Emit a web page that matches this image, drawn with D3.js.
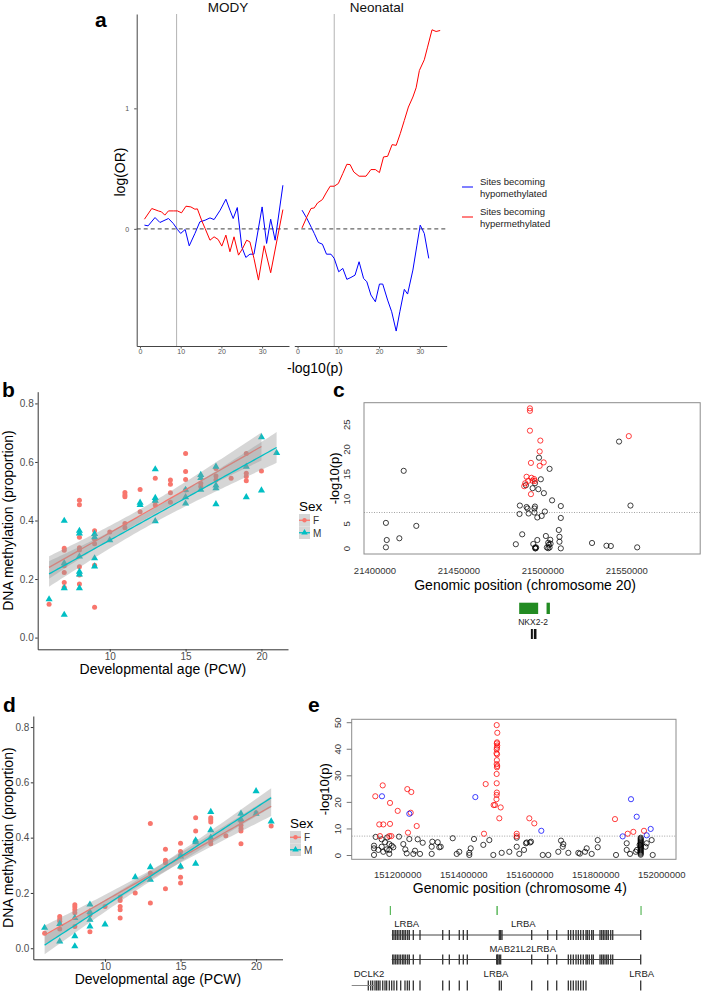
<!DOCTYPE html>
<html><head><meta charset="utf-8">
<script src="https://cdn.jsdelivr.net/npm/d3@7/dist/d3.min.js"></script>
<style>
html,body{margin:0;padding:0;background:#fff;}
svg{display:block;}
</style></head>
<body><svg id="fig" width="701" height="991" viewBox="0 0 701 991"></svg>
<script>
// ================= DATA =================
// Panel a : log(OR) against -log10(p) threshold
const aFacetNames = ["MODY", "Neonatal"];
const aXTicks = [0, 10, 20, 30];
const aYTicks = [0, 1];
const aThreshold = 9;
const modyHypo = [[1.1,0.031],[2.0,0.025],[3.7,0.094],[4.9,0.053],[7.0,0.086],[8.2,0.044],[9.2,-0.005],[10.0,-0.038],[11.1,-0.005],[12.1,-0.141],[13.5,-0.038],[14.7,0.058],[16.0,0.072],[17.2,0.091],[18.2,0.077],[19.7,0.155],[21.1,0.246],[22.1,0.155],[22.9,0.086],[23.9,0.177],[25.0,-0.149],[26.0,-0.237],[27.0,-0.21],[28.0,-0.21],[30.0,0.182],[31.1,-0.121],[32.1,0.08],[33.2,-0.094],[35.1,0.362]];
const modyHyper = [[1.1,0.08],[2.9,0.169],[4.5,0.149],[5.3,0.141],[6.1,0.114],[7.0,0.149],[8.2,0.149],[9.2,0.149],[10.2,0.133],[11.3,0.188],[12.5,0.182],[13.5,0.163],[14.1,0.166],[15.2,0.066],[16.0,0.003],[17.2,-0.094],[18.2,-0.066],[19.2,-0.088],[20.1,-0.143],[21.1,-0.052],[22.1,-0.19],[23.1,-0.066],[24.2,-0.218],[25.2,-0.163],[26.2,-0.094],[27.0,-0.108],[28.0,-0.245],[29.1,-0.425],[30.5,-0.14],[32.1,-0.364],[35.1,0.16]];
const neoHypo = [[1.1,0.155],[2.3,0.086],[3.4,0.011],[4.1,-0.038],[5.1,-0.113],[6.1,-0.127],[7.1,-0.21],[8.2,-0.21],[9.0,-0.245],[10.1,-0.356],[11.1,-0.328],[12.1,-0.419],[13.1,-0.403],[14.1,-0.384],[15.1,-0.273],[16.2,-0.411],[17.0,-0.439],[18.0,-0.549],[19.1,-0.605],[20.1,-0.458],[20.9,-0.458],[22.1,-0.591],[23.1,-0.688],[24.2,-0.848],[25.1,-0.688],[26.2,-0.502],[27.0,-0.541],[28.3,-0.342],[29.3,-0.135],[30.1,0.031],[31.1,-0.038],[32.2,-0.245]];
const neoHyper = [[1.1,0.008],[2.3,0.1],[3.3,0.169],[4.1,0.174],[4.9,0.215],[6.1,0.243],[7.0,0.298],[8.0,0.354],[9.0,0.354],[10.0,0.376],[11.1,0.459],[12.1,0.536],[12.9,0.533],[13.8,0.472],[15.1,0.437],[16.8,0.437],[18.0,0.492],[19.1,0.492],[20.1,0.467],[21.1,0.597],[22.1,0.602],[23.2,0.699],[24.2,0.693],[25.2,0.79],[26.2,0.9],[27.2,1.011],[28.3,1.094],[29.1,1.171],[29.9,1.315],[31.1,1.403],[31.9,1.508],[33.0,1.652],[34.0,1.638],[35.0,1.646]];
const aLegendLabels = [["Sites becoming","hypomethylated"],["Sites becoming","hypermethylated"]];

// Panels b and d : DNA methylation vs developmental age, by sex
const bdXTicks = [10, 15, 20];
const bdYTicks = [0, 0.2, 0.4, 0.6, 0.8];
const sexLevels = ["F", "M"];
const bFemale = [[6,0.114],[7,0.305],[7,0.298],[7,0.245],[7,0.222],[7,0.188],[7,0.171],[8,0.469],[8,0.454],[8,0.343],[8,0.307],[8,0.299],[8,0.242],[8,0.214],[8,0.183],[9,0.365],[9,0.336],[9,0.321],[9,0.247],[9,0.104],[10,0.361],[11,0.496],[11,0.487],[11,0.481],[11,0.39],[11,0.375],[12,0.506],[12,0.43],[13,0.544],[13,0.466],[13,0.453],[14,0.538],[14,0.524],[14,0.495],[14,0.462],[15,0.629],[15,0.567],[15,0.54],[15,0.504],[16,0.527],[16,0.516],[17,0.578],[17,0.552],[17,0.538],[18,0.544],[19,0.629],[19,0.561],[19,0.55],[19,0.536],[20,0.569]];
const bMale = [[6,0.131],[7,0.399],[7,0.254],[7,0.169],[7,0.078],[8,0.365],[8,0.356],[8,0.277],[8,0.225],[8,0.216],[8,0.169],[9,0.354],[9,0.343],[9,0.271],[9,0.243],[10,0.333],[12,0.461],[12,0.453],[13,0.575],[13,0.477],[13,0.468],[13,0.398],[15,0.505],[15,0.48],[15,0.458],[16,0.556],[16,0.545],[16,0.505],[17,0.584],[17,0.52],[17,0.51],[17,0.456],[19,0.584],[19,0.48],[20,0.685],[20,0.503],[21,0.631]];
const dFemale = [[6,0.054],[7,0.115],[7,0.106],[7,0.098],[7,0.07],[8,0.157],[8,0.149],[8,0.139],[8,0.128],[8,0.079],[9,0.121],[9,0.06],[10,0.151],[11,0.185],[11,0.173],[11,0.151],[11,0.139],[11,0.109],[12,0.2],[13,0.451],[13,0.272],[13,0.164],[14,0.358],[14,0.318],[14,0.309],[14,0.215],[15,0.38],[15,0.35],[15,0.336],[15,0.293],[15,0.257],[15,0.236],[16,0.472],[16,0.424],[16,0.388],[17,0.472],[17,0.465],[17,0.457],[17,0.39],[17,0.378],[18,0.407],[19,0.459],[19,0.445],[19,0.433],[19,0.424],[19,0.378],[20,0.49],[21,0.442]];
const dMale = [[6,0.074],[7,0.088],[7,0.025],[8,0.11],[8,0.044],[8,0.007],[9,0.158],[9,0.131],[9,0.103],[9,0.079],[10,0.086],[12,0.257],[13,0.293],[13,0.248],[15,0.332],[15,0.296],[16,0.39],[16,0.384],[16,0.306],[17,0.493],[17,0.427],[17,0.4],[19,0.487],[19,0.466],[20,0.568],[20,0.487],[21,0.459]];

// Panel c : chromosome 20 region
const cXTicks = [21400000, 21450000, 21500000, 21550000];
const cYTicks = [0, 5, 10, 15, 20, 25];
const gwThreshold = 7.3;
const cBlack = [[21406500,5.2],[21407000,1.75],[21406500,0.28],[21414500,2.1],[21417100,15.7],[21424600,4.6],[21483900,0.9],[21486300,8.7],[21486100,7.0],[21487700,2.9],[21490300,8.4],[21490900,8.1],[21491500,7.1],[21489900,12.8],[21495000,8.1],[21495300,8.5],[21494300,0.95],[21495000,7.3],[21495300,13.2],[21493900,12.2],[21496700,1.75],[21495400,0.25],[21495700,0.1],[21496000,0.25],[21495500,0.05],[21496700,6.3],[21497300,12.0],[21497700,18.35],[21498800,14.0],[21499300,6.6],[21500600,11.2],[21501200,7.5],[21501800,2.56],[21503200,1.2],[21502400,0.25],[21503200,0.1],[21504000,0.25],[21504400,1.8],[21503600,0.8],[21504600,1.0],[21504000,16.1],[21505500,9.75],[21509500,3.77],[21509900,2.4],[21509900,1.4],[21510700,8.6],[21510700,6.2],[21510700,0.07],[21529300,1.15],[21537900,0.6],[21540500,0.54],[21545400,21.6],[21552200,8.7],[21556200,0.27]];
const cRed = [[21492300,28.3],[21492300,27.8],[21492300,23.8],[21492900,17.3],[21492900,11.0],[21490300,14.5],[21493200,14.3],[21494800,14.05],[21495200,13.65],[21493900,13.7],[21491300,13.7],[21488900,12.6],[21489500,13.2],[21498500,21.8],[21498100,19.6],[21500500,17.4],[21498100,16.7],[21551200,22.7]];
const cRegions = [[21485900,21497200],[21502200,21504200]];
const cGeneName = "NKX2-2";
const cGeneLabelPos = 21494200;
const cExons = [[21492860,21494050],[21494640,21496200]];

// Panel e : chromosome 4 region
const eXTicks = [151200000, 151400000, 151600000, 151800000, 152000000];
const eYTicks = [0, 10, 20, 30, 40, 50];
const eBlack = [[151133300,7.0],[151128200,3.7],[151151500,6.1],[151161500,5.0],[151168500,6.8],[151174600,4.3],[151181800,3.7],[151203900,7.1],[151217000,4.3],[151235200,6.2],[151260600,6.1],[151275800,4.8],[151304900,5.2],[151321200,5.0],[151330300,3.3],[151366700,6.5],[151421200,2.7],[151431200,6.2],[151459400,4.0],[151477600,5.8],[151560600,6.7],[151560600,3.3],[151588700,4.6],[151603900,5.2],[151694800,5.6],[151701800,4.3],[151772700,2.7],[151806000,5.8],[151806000,3.1],[151893900,4.6],[151954400,4.6],[151969500,5.8],[151128200,2.7],[151128200,0.2],[151141200,2.1],[151151500,3.3],[151156400,1.4],[151166600,2.3],[151174600,2.1],[151174600,0.6],[151186700,3.1],[151223100,2.3],[151227300,0.8],[151247300,0.6],[151252400,1.8],[151267600,0.6],[151303000,3.3],[151303000,0.6],[151326000,3.1],[151378800,0.6],[151386600,1.4],[151417000,1.0],[151417000,0.2],[151489700,0.2],[151515100,1.0],[151538200,1.4],[151568500,0.6],[151582700,2.1],[151590900,4.9],[151601000,4.9],[151639400,0.2],[151656300,0.2],[151686600,1.4],[151700000,3.3],[151717000,1.0],[151747300,1.0],[151752000,0.7],[151767600,1.4],[151787800,0.6],[151861500,0.2],[151893900,2.1],[151903900,0.6],[151921000,1.4],[151925000,2.1],[151933000,4.0],[151951000,3.3],[151972700,0.2],[151936300,0.3],[151936300,0.7],[151936300,1.1],[151936300,1.5],[151936300,1.9],[151936300,2.3],[151936300,2.7],[151936300,3.1],[151936300,3.5],[151936300,3.9],[151936300,4.3],[151936300,4.7],[151936300,5.1],[151936300,5.5],[151936300,5.9],[151936300,6.3],[151936300,6.7]];
const eRed = [[151132100,22.3],[151144200,11.7],[151156400,11.7],[151154600,26.4],[151146400,7.3],[151174600,7.3],[151176700,19.8],[151176700,11.9],[151180600,7.3],[151200000,16.8],[151229100,25.0],[151241200,23.9],[151239400,16.1],[151231200,8.6],[151257600,11.1],[151466600,26.9],[151461500,8.2],[151500000,49.1],[151501800,46.2],[151501000,42.6],[151500500,42.2],[151501500,41.4],[151500800,40.6],[151500000,40.0],[151499500,38.5],[151501000,38.1],[151500500,35.9],[151500000,34.4],[151501500,33.7],[151500800,33.2],[151499800,30.7],[151500000,27.2],[151500500,23.7],[151500000,22.8],[151499300,21.2],[151494800,19.0],[151490700,19.0],[151512000,18.1],[151507900,14.0],[151560600,8.2],[151560600,7.3],[151598800,14.0],[151613900,12.1],[151858400,13.7],[151896900,8.2],[151913900,8.9],[151946300,9.3]];
const eBlue = [[151152400,22.3],[151235200,15.7],[151435200,22.0],[151635100,9.3],[151881700,7.2],[151906900,21.2],[151924200,14.6],[151954400,7.6],[151966600,10.0]];
const eRegions = [[151176000,151177500],[151499000,151503500],[151935500,151937000]];
const lrbaSpan = [151181800, 151936300];
const dclk2Span = [151060600, 151130000];
const lrbaExons = [151184850,151188800,151193900,151198800,151203900,151209100,151215100,151219100,151224200,151230300,151235200,151247300,151267600,151336400,151356400,151386600,151398800,151410900,151507900,151512000,151516000,151606000,151654500,151681800,151717000,151724200,151732100,151740300,151747300,151754500,151762400,151770500,151774500,151780500,151787800,151792700,151813000,151818100,151823000,151828100,151833300,151838100,151845400,151851500,151936300];
const mab21Exons = [151184850,151188800,151193900,151198800,151203900,151209100,151215100,151219100,151224200,151230300,151235200,151247300,151267600,151336400,151356400,151386600,151398800,151410900,151500000,151502000,151503900,151507900,151512000,151606000,151654500,151681800,151717000,151724200,151732100,151740300,151747300,151754500,151762400,151770500,151774500,151780500,151787800,151792700,151813000,151818100,151823000,151828100,151833300,151838100,151845400,151851500,151936300];
const track3Exons = [151110900,151118200,151124200,151131200,151136300,151141200,151146400,151154600,151161500,151166600,151174600,151181800,151188800,151197000,151209100,151222100,151229100,151235200,151247300,151267600,151336400,151356400,151386600,151410900,151507900,151514000,151606000,151654500,151681800,151717000,151724200,151732100,151740300,151747300,151754500,151762400,151770500,151936300];
const eGeneLabels = [[0,"LRBA",151227300],[0,"LRBA",151580600],[1,"MAB21L2LRBA",151578800],[2,"DCLK2",151113000],[2,"LRBA",151497900],[2,"LRBA",151939300]];

// ================= DRAWING =================
const FONT = "'Liberation Sans', Arial, Helvetica, sans-serif";
const svg = d3.select("#fig").attr("font-family", FONT);
const colF = "#F8766D", colM = "#00BFC4";

function label(g, x, y, s, o = {}) {
  const t = g.append("text").attr("x", x).attr("y", y).text(s)
    .attr("font-size", o.size || 10).attr("fill", o.fill || "#000")
    .attr("text-anchor", o.anchor || "start");
  if (o.weight) t.attr("font-weight", o.weight);
  if (o.rot) t.attr("transform", `rotate(-90,${x},${y})`);
  return t;
}
function styleAxis(g, o) {
  g.attr("font-family", FONT).attr("font-size", o.size);
  g.select(".domain").attr("stroke", o.line).attr("stroke-width", o.lw || 1);
  g.selectAll(".tick line").attr("stroke", o.tick).attr("stroke-width", o.lw || 1);
  g.selectAll(".tick text").attr("fill", o.text);
}

// ---------- Panel a ----------
const gA = svg.append("g");
label(gA, 95, 27, "a", {size: 21, weight: "bold"});
const aY = d3.scaleLinear().domain([-0.972, 1.783]).range([346, 14]);
const aRanges = [[136.7, 289], [294.3, 446.7]];
const aSeries = [[modyHypo, modyHyper], [neoHypo, neoHyper]];
const aStripX = [228, 376.7];
aRanges.forEach((r, i) => {
  const x = d3.scaleLinear().domain([-0.8, 36.6]).range(r);
  gA.append("line").attr("x1", x(aThreshold)).attr("x2", x(aThreshold))
    .attr("y1", 14).attr("y2", 346).attr("stroke", "#b3b3b3").attr("stroke-width", 1);
  gA.append("line").attr("x1", r[0]).attr("x2", r[1]).attr("y1", aY(0)).attr("y2", aY(0))
    .attr("stroke", "#666").attr("stroke-width", 1.1).attr("stroke-dasharray", "4,3");
  const ln = d3.line().x(d => x(d[0])).y(d => aY(d[1]));
  gA.append("path").datum(aSeries[i][0]).attr("d", ln).attr("fill", "none").attr("stroke", "#0000FF").attr("stroke-width", 1);
  gA.append("path").datum(aSeries[i][1]).attr("d", ln).attr("fill", "none").attr("stroke", "#FF0000").attr("stroke-width", 1);
  const ax = gA.append("g").attr("transform", "translate(0,346)")
    .call(d3.axisBottom(x).tickValues(aXTicks).tickSize(2.5).tickSizeOuter(0).tickPadding(1));
  styleAxis(ax, {size: 7, line: "#444", tick: "#555", text: "#555"});
  label(gA, aStripX[i], 12, aFacetNames[i], {size: 13.5, anchor: "middle", fill: "#111"});
});
const ayAx = gA.append("g").attr("transform", "translate(136.7,0)")
  .call(d3.axisLeft(aY).tickValues(aYTicks).tickFormat(d3.format("d")).tickSize(2.5).tickSizeOuter(0).tickPadding(5));
styleAxis(ayAx, {size: 7, line: "#444", tick: "#555", text: "#555"});
label(gA, 124.5, 172, "log(OR)", {size: 14, anchor: "middle", rot: true});
label(gA, 315, 373, "-log10(p)", {size: 14, anchor: "middle"});
// legend a
const aLegCols = ["#0000FF", "#FF0000"];
const aLegY = [187, 217];
aLegendLabels.forEach((lab, i) => {
  gA.append("line").attr("x1", 462).attr("x2", 473).attr("y1", aLegY[i]).attr("y2", aLegY[i])
    .attr("stroke", aLegCols[i]).attr("stroke-width", 1);
  label(gA, 480, aLegY[i] - 2.5, lab[0], {size: 9.5, fill: "#222"});
  label(gA, 480, aLegY[i] + 9.5, lab[1], {size: 9.5, fill: "#222"});
});

// ---------- Panels b & d ----------
function tq(df) { return 1.96 + 2.37 / df + 2.8 / (df * df); }
function lmBand(pts) {
  const n = pts.length, mx = d3.mean(pts, d => d[0]), my = d3.mean(pts, d => d[1]);
  const sxx = d3.sum(pts, d => (d[0] - mx) ** 2), sxy = d3.sum(pts, d => (d[0] - mx) * (d[1] - my));
  const b = sxy / sxx, a = my - b * mx;
  const s = Math.sqrt(d3.sum(pts, d => (d[1] - a - b * d[0]) ** 2) / (n - 2));
  const [x0, x1] = d3.extent(pts, d => d[0]);
  const t = tq(n - 2);
  return d3.range(0, 81).map(i => {
    const x = x0 + (x1 - x0) * i / 80, f = a + b * x;
    const se = s * Math.sqrt(1 / n + (x - mx) ** 2 / sxx);
    return {x, f, lo: f - t * se, hi: f + t * se};
  });
}
function scatterPanel(cfg) {
  const g = svg.append("g");
  const x = d3.scaleLinear().domain([5.25, 21.75]).range([cfg.x0, cfg.x1]);
  const y = d3.scaleLinear().domain([-0.04, 0.84]).range([cfg.yB, cfg.yT]);
  label(g, cfg.lx, cfg.ly, cfg.letter, {size: 21, weight: "bold"});
  g.selectAll(".pf").data(cfg.F).enter().append("circle")
    .attr("cx", d => x(d[0])).attr("cy", d => y(d[1])).attr("r", 2.5).attr("fill", colF);
  const tri = d3.symbol().type(d3.symbolTriangle).size(22);
  g.selectAll(".pm").data(cfg.M).enter().append("path").attr("d", tri)
    .attr("transform", d => `translate(${x(d[0])},${y(d[1])})`).attr("fill", colM);
  [[cfg.F, colF], [cfg.M, colM]].forEach(([pts, col]) => {
    const band = lmBand(pts);
    g.append("path").datum(band)
      .attr("d", d3.area().x(d => x(d.x)).y0(d => y(d.lo)).y1(d => y(d.hi)))
      .attr("fill", "#999999").attr("fill-opacity", 0.4);
    g.append("path").datum(band).attr("d", d3.line().x(d => x(d.x)).y(d => y(d.f)))
      .attr("fill", "none").attr("stroke", col).attr("stroke-width", 1.3);
  });
  const gx = g.append("g").attr("transform", `translate(0,${cfg.yB})`)
    .call(d3.axisBottom(x).tickValues(bdXTicks).tickSize(2.5).tickSizeOuter(0).tickPadding(1.5));
  styleAxis(gx, {size: 10, line: "#333", tick: "#333", text: "#4d4d4d"});
  const gy = g.append("g").attr("transform", `translate(${cfg.x0},0)`)
    .call(d3.axisLeft(y).tickValues(bdYTicks).tickFormat(d3.format(".1f")).tickSize(2.5).tickSizeOuter(0).tickPadding(1.5));
  styleAxis(gy, {size: 10, line: "#333", tick: "#333", text: "#4d4d4d"});
  label(g, 13, (cfg.yT + cfg.yB) / 2, "DNA methylation (proportion)", {size: 14, anchor: "middle", rot: true});
  label(g, (cfg.x0 + cfg.x1) / 2, cfg.yB + 25, "Developmental age (PCW)", {size: 14, anchor: "middle"});
  const lg = g.append("g").attr("transform", `translate(${cfg.legX},${cfg.legY})`);
  label(lg, 0, 0, "Sex", {size: 13.5});
  [colF, colM].forEach((col, i) => {
    const ky = 3 + i * 12.5;
    lg.append("rect").attr("x", 0).attr("y", ky).attr("width", 11).attr("height", 12.5).attr("fill", "#d6d6d6");
    lg.append("line").attr("x1", 0).attr("x2", 11).attr("y1", ky + 6.25).attr("y2", ky + 6.25).attr("stroke", col).attr("stroke-width", 1.3);
    if (i === 0) lg.append("circle").attr("cx", 5.5).attr("cy", ky + 6.25).attr("r", 2.2).attr("fill", col);
    else lg.append("path").attr("d", d3.symbol().type(d3.symbolTriangle).size(18)).attr("transform", `translate(5.5,${ky + 6.25})`).attr("fill", col);
    label(lg, 14, ky + 10, sexLevels[i], {size: 10, fill: "#333"});
  });
}
scatterPanel({letter: "b", lx: 2, ly: 397, x0: 37.7, x1: 288, yT: 391.7, yB: 649.3, F: bFemale, M: bMale, legX: 299, legY: 511});
scatterPanel({letter: "d", lx: 3, ly: 712, x0: 33.3, x1: 282.5, yT: 716, yB: 959.3, F: dFemale, M: dMale, legX: 290, legY: 828});

// ---------- Regional association panels ----------
function regionPanel(cfg) {
  const g = svg.append("g");
  const x = d3.scaleLinear().domain(cfg.xDom).range([cfg.bx0, cfg.bx1]);
  const y = d3.scaleLinear().domain(cfg.yDom).range([cfg.by1, cfg.by0]);
  label(g, cfg.lx, cfg.ly, cfg.letter, {size: 21, weight: "bold"});
  g.append("line").attr("x1", cfg.bx0).attr("x2", cfg.bx1).attr("y1", y(gwThreshold)).attr("y2", y(gwThreshold))
    .attr("stroke", "#999").attr("stroke-width", 0.9).attr("stroke-dasharray", "1,1.5");
  cfg.sets.forEach(([pts, col]) => {
    g.selectAll(null).data(pts).enter().append("circle")
      .attr("cx", d => x(d[0])).attr("cy", d => y(d[1])).attr("r", 2.6)
      .attr("fill", "none").attr("stroke", col).attr("stroke-width", 0.75);
  });
  g.append("rect").attr("x", cfg.bx0).attr("y", cfg.by0).attr("width", cfg.bx1 - cfg.bx0).attr("height", cfg.by1 - cfg.by0)
    .attr("fill", "none").attr("stroke", "#8c8c8c").attr("stroke-width", 1);
  cfg.yTicks.forEach(v => {
    if (cfg.yTickMarks) g.append("line").attr("x1", cfg.bx0 - 5).attr("x2", cfg.bx0).attr("y1", y(v)).attr("y2", y(v)).attr("stroke", "#777");
    label(g, cfg.yLabX, y(v), String(v), {size: 9.5, anchor: "middle", rot: true, fill: "#333"});
  });
  cfg.xTicks.forEach(v => label(g, x(v), cfg.xLabY, d3.format("d")(v), {size: 9.5, anchor: "middle", fill: "#333"}));
  label(g, cfg.yTitleX, (cfg.by0 + cfg.by1) / 2, "-log10(p)", {size: 13, anchor: "middle", rot: true});
  label(g, (cfg.bx0 + cfg.bx1) / 2 + cfg.xTitleDx, cfg.xTitleY, cfg.xTitle, {size: 14, anchor: "middle"});
  return {g, x};
}
const pc = regionPanel({letter: "c", lx: 333, ly: 397, bx0: 364, bx1: 700.2, by0: 402.7, by1: 554,
  xDom: [21393445, 21593740], yDom: [-1.07, 29.44], yTicks: cYTicks, xTicks: cXTicks, yTickMarks: false,
  yLabX: 350.5, xLabY: 574, yTitleX: 339.5, xTitleY: 589.5, xTitleDx: -7,
  xTitle: "Genomic position (chromosome 20)", sets: [[cBlack, "#000"], [cRed, "#FF0000"]]});
cRegions.forEach(r => pc.g.append("rect").attr("x", pc.x(r[0])).attr("y", 602.7)
  .attr("width", Math.max(1.5, pc.x(r[1]) - pc.x(r[0]))).attr("height", 11.3).attr("fill", "#228B22"));
label(pc.g, pc.x(cGeneLabelPos), 625, cGeneName, {size: 8.5, anchor: "middle", fill: "#222"});
cExons.forEach(r => pc.g.append("rect").attr("x", pc.x(r[0])).attr("y", 629)
  .attr("width", Math.max(1.6, pc.x(r[1]) - pc.x(r[0]))).attr("height", 10).attr("fill", "#111"));

const pe = regionPanel({letter: "e", lx: 308, ly: 712, bx0: 351.7, bx1: 676, by0: 719.3, by1: 859.3,
  xDom: [151060620, 152043250], yDom: [-1.43, 51.28], yTicks: eYTicks, xTicks: eXTicks, yTickMarks: true,
  yLabX: 341, xLabY: 877.5, yTitleX: 329.5, xTitleY: 893, xTitleDx: 6,
  xTitle: "Genomic position (chromosome 4)", sets: [[eBlack, "#000"], [eRed, "#FF0000"], [eBlue, "#0000FF"]]});
eRegions.forEach(r => pe.g.append("rect").attr("x", pe.x(r[0])).attr("y", 906)
  .attr("width", Math.max(1.2, pe.x(r[1]) - pe.x(r[0]))).attr("height", 9).attr("fill", "#5cb85c"));
const trackY = [935, 959.5, 985.5];
const trackLabY = [927, 952, 977];
[[lrbaExons, lrbaSpan], [mab21Exons, lrbaSpan], [track3Exons, null]].forEach(([ex, span], i) => {
  if (span) pe.g.append("line").attr("x1", pe.x(span[0])).attr("x2", pe.x(span[1]))
    .attr("y1", trackY[i]).attr("y2", trackY[i]).attr("stroke", "#444").attr("stroke-width", 1);
  ex.forEach(p => pe.g.append("rect").attr("x", pe.x(p) - 0.65).attr("y", trackY[i] - 5)
    .attr("width", 1.3).attr("height", 10).attr("fill", "#333"));
});
pe.g.append("line").attr("x1", pe.x(dclk2Span[0])).attr("x2", pe.x(dclk2Span[1]))
  .attr("y1", trackY[2]).attr("y2", trackY[2]).attr("stroke", "#888").attr("stroke-width", 1);
eGeneLabels.forEach(([t, name, pos]) => label(pe.g, pe.x(pos), trackLabY[t], name, {size: 9.5, anchor: "middle", fill: "#222"}));
</script>
</body></html>
